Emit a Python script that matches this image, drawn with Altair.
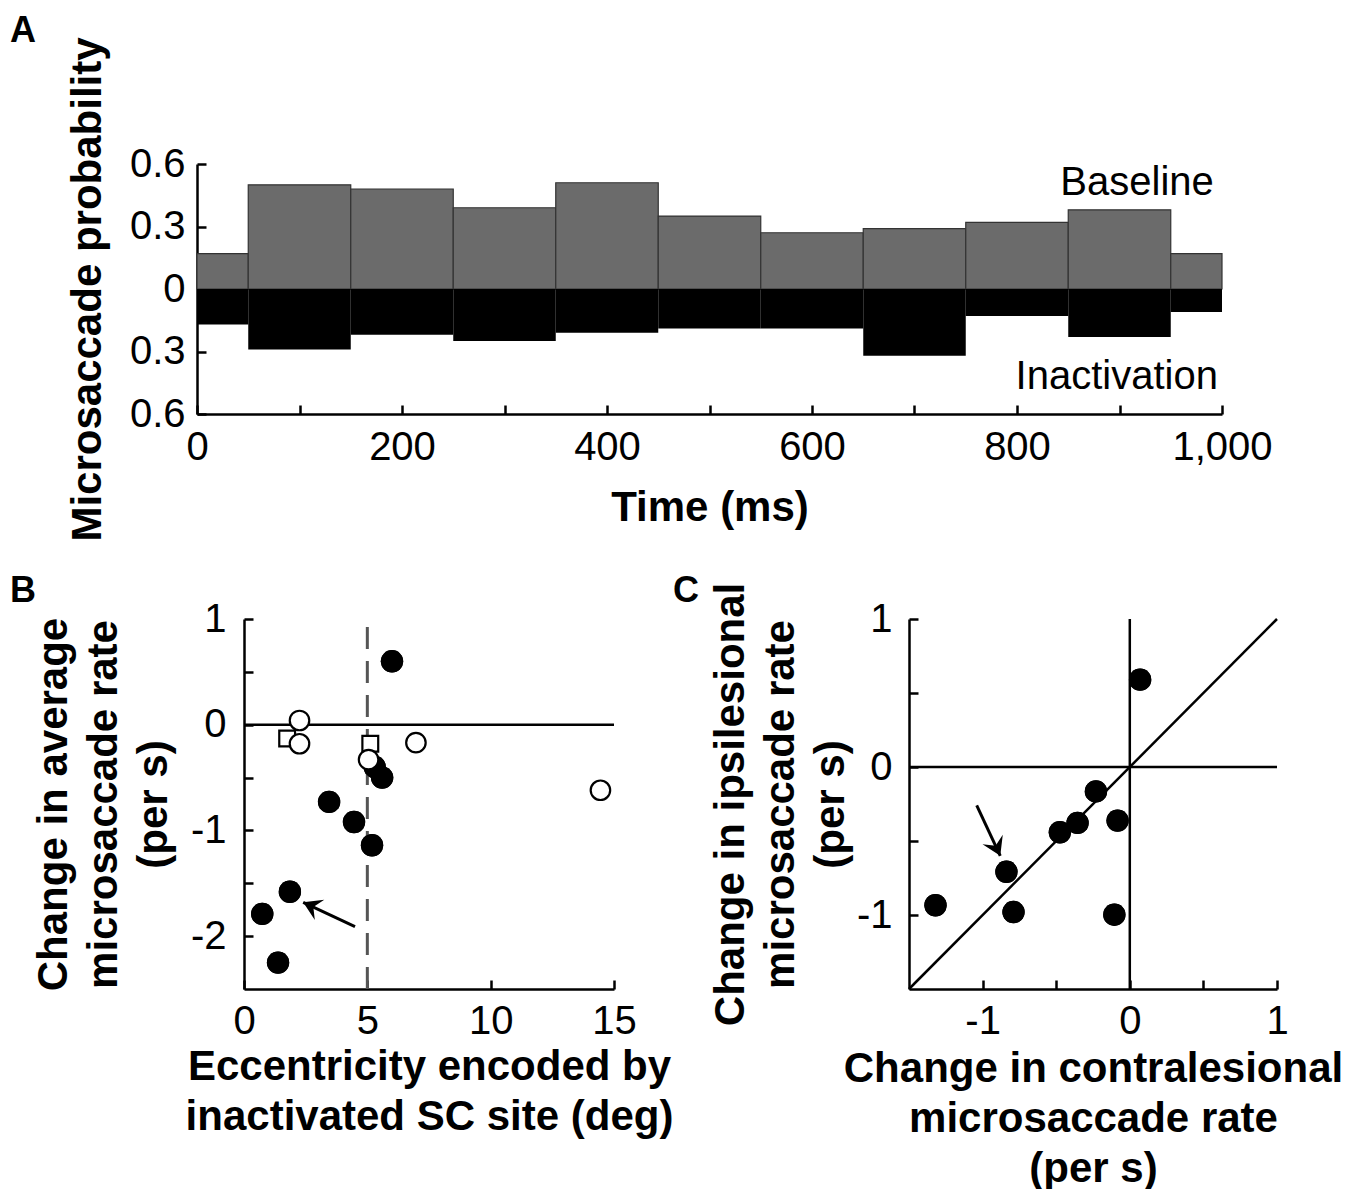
import altair as alt
import pandas as pd

FONT = "Liberation Sans"

# ---------------- Panel A data ----------------
bin_start = [0, 50, 150, 250, 350, 450, 550, 650, 750, 850, 950]
bin_end = [50, 150, 250, 350, 450, 550, 650, 750, 850, 950, 1000]
baseline_prob = [0.17, 0.50, 0.48, 0.39, 0.51, 0.35, 0.27, 0.29, 0.32, 0.38, 0.17]
inactivation_prob = [0.17, 0.29, 0.22, 0.25, 0.21, 0.19, 0.19, 0.32, 0.13, 0.23, 0.11]
time_ticks = [0, 100, 200, 300, 400, 500, 600, 700, 800, 900, 1000]
probA_ticks = [-0.6, -0.3, 0, 0.3, 0.6]

# ---------------- Panel B data ----------------
b_filled_x = [6.0, 5.3, 5.6, 3.45, 4.46, 5.19, 1.86, 0.74, 1.38]
b_filled_y = [0.60, -0.40, -0.50, -0.73, -0.92, -1.14, -1.58, -1.79, -2.25]
b_open_x = [2.25, 2.25, 5.05, 6.97, 14.45]
b_open_y = [0.04, -0.18, -0.33, -0.17, -0.62]
b_square_x = [1.75, 5.12]
b_square_y = [-0.13, -0.18]
b_arrow_tail = (4.5, -1.91)
b_arrow_head = (2.4, -1.68)
b_x_ticks = [0, 5, 10, 15]
b_y_ticks = [-2, -1.5, -1, -0.5, 0, 0.5, 1]

# ---------------- Panel C data ----------------
c_x = [0.07, -0.23, -0.355, -0.475, -0.083, -0.838, -0.79, -1.32, -0.105]
c_y = [0.59, -0.165, -0.378, -0.441, -0.362, -0.708, -0.98, -0.934, -0.998]
c_arrow_tail = (-1.04, -0.26)
c_arrow_head = (-0.88, -0.60)
c_ticks = [-1, -0.5, 0, 0.5, 1]
c_ref_x1 = [-1.5, 0, -1.5]
c_ref_y1 = [0, -1.5, -1.5]
c_ref_x2 = [1, 0, 1]
c_ref_y2 = [0, 1, 1]

LABEL_FS = 40
TITLE_FS = 42
INWARD = {"expr": "-9"}
LINE_W = 2.5
ARROW_PATH = "M 0 0 L -1 -0.62 L -0.62 0 L -1 0.62 Z"

# panel A's plot starts this many px left of panel B's plot
A_SHIFT = 47
A_WIDTH = 1025


def letter(ch, dx, dy):
    return alt.Chart(pd.DataFrame({"t": [ch]})).mark_text(
        align="left", baseline="top", font=FONT, fontSize=36, fontWeight="bold", color="black"
    ).encode(x=alt.value(dx), y=alt.value(dy), text="t:N")


# ---------------- Panel A ----------------
dfA = pd.DataFrame({
    "start": bin_start,
    "end": bin_end,
    "base": baseline_prob,
    "inact": [-v for v in inactivation_prob],
})

xA_scale = alt.Scale(domain=[0, 1000], range=[-A_SHIFT, A_WIDTH - A_SHIFT], nice=False, zero=False)
yA_scale = alt.Scale(domain=[-0.6, 0.6], nice=False, zero=False)

xA = alt.X("start:Q", scale=xA_scale, axis=alt.Axis(
    values=time_ticks,
    labelExpr="datum.value % 200 == 0 ? format(datum.value, ',') : ''",
    title="Time (ms)", labelPadding=22, titlePadding=20,
))
yA = alt.Y("base:Q", scale=yA_scale, axis=alt.Axis(
    values=probA_ticks,
    labelExpr="datum.value == 0 ? '0' : format(abs(datum.value), '.1f')",
    title="Microsaccade probability", labelPadding=21, titlePadding=20,
    offset=A_SHIFT,
))

base_bars = alt.Chart(dfA).mark_rect(color="#6b6b6b", stroke="#333333", strokeWidth=1.2).encode(
    x=xA, x2="end:Q", y=yA, y2=alt.datum(0)
)
inact_bars = alt.Chart(dfA).mark_rect(color="black").encode(
    x=alt.X("start:Q", scale=xA_scale), x2="end:Q",
    y=alt.Y("inact:Q", scale=yA_scale), y2=alt.datum(0)
)
dfA_txt = pd.DataFrame({"x": [992, 996], "y": [0.51, -0.42], "t": ["Baseline", "Inactivation"]})
A_text = alt.Chart(dfA_txt).mark_text(
    align="right", baseline="middle", font=FONT, fontSize=LABEL_FS, color="black"
).encode(x=alt.X("x:Q", scale=xA_scale), y=alt.Y("y:Q", scale=yA_scale), text="t:N")

panelA = alt.layer(
    base_bars, inact_bars, A_text, letter("A", -187 - A_SHIFT, -150)
).properties(width=A_WIDTH - A_SHIFT, height=250)

# ---------------- Panel B ----------------
xB_scale = alt.Scale(domain=[0, 15], nice=False, zero=False)
yB_scale = alt.Scale(domain=[-2.5, 1], nice=False, zero=False)

dfB_f = pd.DataFrame({"x": b_filled_x, "y": b_filled_y})
dfB_o = pd.DataFrame({"x": b_open_x, "y": b_open_y})
dfB_s = pd.DataFrame({"x": b_square_x, "y": b_square_y})
dfB_arrow = pd.DataFrame({"x": [b_arrow_tail[0]], "y": [b_arrow_tail[1]],
                          "x2": [b_arrow_head[0]], "y2": [b_arrow_head[1]]})

xB = alt.X("x:Q", scale=xB_scale, axis=alt.Axis(
    values=b_x_ticks, labelExpr="toString(datum.value)",
    title=["Eccentricity encoded by", "inactivated SC site (deg)"],
    labelPadding=21, titlePadding=5,
))
yB = alt.Y("y:Q", scale=yB_scale, axis=alt.Axis(
    values=b_y_ticks, labelExpr="datum.value % 1 == 0 ? toString(datum.value) : ''",
    title=["Change in average", "microsaccade rate", "(per s)"],
    labelPadding=27, titlePadding=15,
))

B_zero = alt.Chart(pd.DataFrame({"a": [0]})).mark_rule(color="black", strokeWidth=LINE_W).encode(
    x=alt.datum(0, scale=xB_scale), x2=alt.datum(15), y=alt.datum(0, scale=yB_scale)
)
B_dash = alt.Chart(pd.DataFrame({"a": [0]})).mark_rule(color="#555555", strokeWidth=3, strokeDash=[22, 12]).encode(
    x=alt.datum(5, scale=xB_scale), y=alt.datum(-2.5, scale=yB_scale), y2=alt.datum(1)
)
B_filled = alt.Chart(dfB_f).mark_point(shape="circle", filled=True, color="black", size=500, opacity=1).encode(x=xB, y=yB)
B_open = alt.Chart(dfB_o).mark_point(shape="circle", filled=True, fill="white", stroke="black", strokeWidth=2.2, size=380, opacity=1).encode(
    x=alt.X("x:Q", scale=xB_scale), y=alt.Y("y:Q", scale=yB_scale))
B_sq = alt.Chart(dfB_s).mark_point(shape="square", filled=True, fill="white", stroke="black", strokeWidth=2.2, size=250, opacity=1).encode(
    x=alt.X("x:Q", scale=xB_scale), y=alt.Y("y:Q", scale=yB_scale))
B_arrow_line = alt.Chart(dfB_arrow).mark_rule(color="black", strokeWidth=3).encode(
    x=alt.X("x:Q", scale=xB_scale), y=alt.Y("y:Q", scale=yB_scale), x2="x2:Q", y2="y2:Q")
B_arrow_head = alt.Chart(dfB_arrow).mark_point(shape=ARROW_PATH, filled=True, color="black", size=1300, angle=205, opacity=1).encode(
    x=alt.X("x2:Q", scale=xB_scale), y=alt.Y("y2:Q", scale=yB_scale))

panelB = alt.layer(
    B_filled, B_zero, B_dash, B_filled, B_sq, B_open, B_arrow_line, B_arrow_head, letter("B", -234, -45)
).properties(width=370, height=370)

# ---------------- Panel C ----------------
c_scale_x = alt.Scale(domain=[-1.5, 1], nice=False, zero=False)
c_scale_y = alt.Scale(domain=[-1.5, 1], nice=False, zero=False)

dfC = pd.DataFrame({"x": c_x, "y": c_y})
dfC_ref = pd.DataFrame({"x": c_ref_x1, "y": c_ref_y1, "x2": c_ref_x2, "y2": c_ref_y2})
dfC_arrow = pd.DataFrame({"x": [c_arrow_tail[0]], "y": [c_arrow_tail[1]],
                          "x2": [c_arrow_head[0]], "y2": [c_arrow_head[1]]})

xC = alt.X("x:Q", scale=c_scale_x, axis=alt.Axis(
    values=c_ticks, labelExpr="datum.value % 1 == 0 ? toString(datum.value) : ''",
    title=["Change in contralesional", "microsaccade rate", "(per s)"],
    labelPadding=21, titlePadding=7,
))
yC = alt.Y("y:Q", scale=c_scale_y, axis=alt.Axis(
    values=c_ticks, labelExpr="datum.value % 1 == 0 ? toString(datum.value) : ''",
    title=["Change in ipsilesional", "microsaccade rate", "(per s)"],
    labelPadding=26, titlePadding=4,
))

C_pts = alt.Chart(dfC).mark_point(shape="circle", filled=True, color="black", size=500, opacity=1).encode(x=xC, y=yC)
C_ref = alt.Chart(dfC_ref).mark_rule(color="black", strokeWidth=LINE_W).encode(
    x=alt.X("x:Q", scale=c_scale_x), y=alt.Y("y:Q", scale=c_scale_y), x2="x2:Q", y2="y2:Q")
C_arrow_line = alt.Chart(dfC_arrow).mark_rule(color="black", strokeWidth=3).encode(
    x=alt.X("x:Q", scale=c_scale_x), y=alt.Y("y:Q", scale=c_scale_y), x2="x2:Q", y2="y2:Q")
C_arrow_head = alt.Chart(dfC_arrow).mark_point(shape=ARROW_PATH, filled=True, color="black", size=1300, angle=65, opacity=1).encode(
    x=alt.X("x2:Q", scale=c_scale_x), y=alt.Y("y2:Q", scale=c_scale_y))

panelC = alt.layer(
    C_pts, C_ref, C_pts, C_arrow_line, C_arrow_head, letter("C", -236, -45)
).properties(width=368, height=370)

chart = alt.vconcat(
    panelA,
    alt.hconcat(panelB, panelC, spacing=0),
    spacing=31,
).properties(
    padding={"left": 2, "top": 5, "right": 0, "bottom": 0}
).configure_axis(
    labelFont=FONT, titleFont=FONT,
    labelFontSize=LABEL_FS, titleFontSize=TITLE_FS, titleFontWeight="bold",
    labelColor="black", titleColor="black",
    domainColor="black", domainWidth=LINE_W,
    tickColor="black", tickWidth=LINE_W, tickSize=INWARD,
    grid=False, titleLineHeight=50, labelOverlap=False, labelFlush=False,
).configure_view(strokeWidth=0)

chart.save("out.html", embed_options={"renderer": "svg", "actions": False})
